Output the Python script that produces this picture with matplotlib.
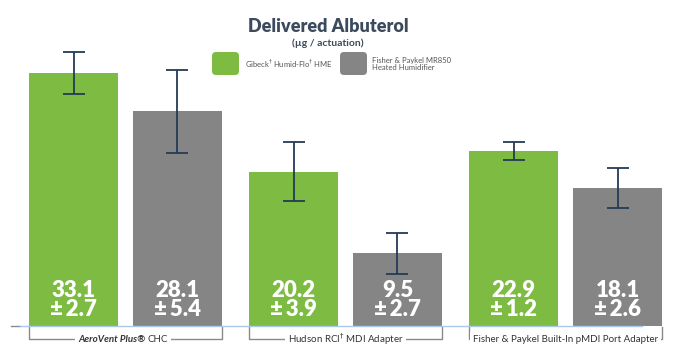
import matplotlib.pyplot as plt
from matplotlib.patches import FancyBboxPatch

# data
groups = ['AeroVent Plus® CHC', 'Hudson RCI† MDI Adapter',
          'Fisher & Paykel Built-In pMDI Port Adapter']
series = ['Gibeck† Humid-Flo† HME', 'Fisher & Paykel MR850\nHeated Humidifier']
hme_mean = [33.1, 20.2, 22.9]
hme_sd = [2.7, 3.9, 1.2]
heated_mean = [28.1, 9.5, 18.1]
heated_sd = [5.4, 2.7, 2.6]

GREEN = '#7dbb42'
GREY = '#858585'
NAVY = '#243a56'
TITLE_C = '#3b4a5c'


def sup(s):
    # dagger drawn as superscript, like the original
    return s.replace('†', r'$^{\dagger}$')


plt.rcParams['font.family'] = ['Lato', 'DejaVu Sans']

fig = plt.figure(figsize=(6.8, 3.56), dpi=100)
ax = fig.add_axes([0, 0, 1, 1])
ax.set_xlim(-0.570, 2.520)
ax.set_ylim(-3.93, 42.67)
ax.axis('off')

w = 0.405
off = 0.236
x = list(range(len(groups)))

for vals, sds, color, sign in [(hme_mean, hme_sd, GREEN, -1),
                               (heated_mean, heated_sd, GREY, 1)]:
    xs = [i + sign * off for i in x]
    ax.bar(xs, vals, width=w, color=color, zorder=2)
    ax.errorbar(xs, vals, yerr=sds, fmt='none', ecolor=NAVY, elinewidth=1.3,
                capsize=7.6, capthick=1.3, zorder=3)
    for xi, v, s in zip(xs, vals, sds):
        ax.text(xi, 3.4, f'{v:.1f}\n±\u2009{s:.1f}', ha='center', va='center',
                color='white', fontsize=16, fontweight='heavy',
                linespacing=0.85, zorder=4)

# baseline
ax.plot([-0.52, -0.48], [0, 0], color='#8a8a8a', lw=1, zorder=5)
ax.plot([-0.48, 2.348], [0, 0], color='#a9c9ea', lw=1, zorder=5)

# brackets under each group
half = off + w / 2
for i, g in enumerate(groups):
    ax.plot([i - half, i - half, i + half, i + half], [-0.1, -1.7, -1.7, -0.1],
            color='#8a8a8a', lw=1, zorder=1)
    if i == 0:
        ax.text(i + 0.09, -1.75, 'AeroVent Plus®', ha='right', va='center',
                fontsize=7, fontweight='bold', style='italic', color='#333333',
                bbox=dict(facecolor='white', edgecolor='none', pad=2))
        ax.text(i + 0.10, -1.75, 'CHC', ha='left', va='center', fontsize=7,
                color='#333333',
                bbox=dict(facecolor='white', edgecolor='none', pad=2))
    else:
        ax.text(i, -1.75, sup(g), ha='center', va='center', fontsize=7,
                color='#333333',
                bbox=dict(facecolor='white', edgecolor='none', pad=2))

# title
fig.text(328 / 680, 1 - 27 / 356, 'Delivered Albuterol', ha='center', va='center',
         fontsize=13, fontweight='heavy', color=TITLE_C)
fig.text(328 / 680, 1 - 43 / 356, '(µg / actuation)', ha='center', va='center',
         fontsize=7.5, fontweight='bold', color=TITLE_C)

# legend
for (x0, tx), color, label in zip([(212, 245), (340, 372)], [GREEN, GREY], series):
    box = FancyBboxPatch((x0 / 100, (356 - 75) / 100), 0.27, 0.23,
                         boxstyle='round,pad=0,rounding_size=0.04',
                         transform=fig.dpi_scale_trans, facecolor=color,
                         edgecolor='none')
    fig.add_artist(box)
    fig.text(tx / 680, 1 - 64 / 356, sup(label), ha='left', va='center',
             fontsize=5.5, color='#555555', linespacing=1.1)

fig.savefig('out.png', dpi=100)
